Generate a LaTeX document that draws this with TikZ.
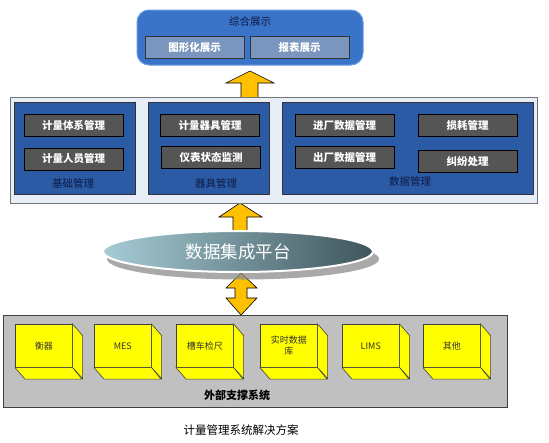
\documentclass[tikz,border=0pt]{standalone}
\usepackage{fontspec}
\setmainfont{Noto Sans CJK SC}
\usepackage{tikz}
\usetikzlibrary{shapes.geometric, calc}

\definecolor{topblue}{HTML}{3A74C8}
\definecolor{topedge}{HTML}{6A9AE0}
\definecolor{showbox}{HTML}{7A96BE}
\definecolor{panelbg}{HTML}{E8EEF8}
\definecolor{grpblue}{HTML}{2B5BA5}
\definecolor{navytxt}{HTML}{0E1A44}
\definecolor{modbox}{HTML}{555555}
\definecolor{arrowgold}{HTML}{FFC000}
\definecolor{ellleft}{HTML}{A6CCD6}
\definecolor{ellright}{HTML}{3E555B}
\definecolor{extbg}{HTML}{C0C0C0}
\definecolor{cubeyel}{HTML}{FFFF00}

\tikzset{
  showstyle/.style={draw=black!80, fill=showbox, text=white, font=\bfseries\fontsize{10.5}{12}\selectfont,
    minimum width=99pt, minimum height=22pt, inner sep=0pt},
  grpstyle/.style={draw=black!80, fill=grpblue, minimum height=92pt, inner sep=0pt},
  modstyle/.style={draw=black, fill=modbox, text=white, font=\bfseries\fontsize{10.5}{12}\selectfont,
    minimum width=99pt, minimum height=22pt, inner sep=0pt},
  grplabel/.style={text=navytxt, font=\fontsize{10.5}{12}\selectfont},
  blockarrow/.style={draw=black, fill=arrowgold, line width=0.6pt},
  cubeface/.style={draw=black!75, fill=cubeyel, line width=0.6pt},
  cubestyle/.style={cubeface, minimum width=57pt, minimum height=43pt, inner sep=1pt,
    align=center, text=black!80, font=\fontsize{9}{10.5}\selectfont},
}

\begin{document}
\begin{tikzpicture}[x=1pt, y=-1pt]
  \useasboundingbox (0,0) rectangle (549,442);

  % Bas : systemes externes
  \node[draw=black!75, fill=extbg, minimum width=504pt, minimum height=92pt, inner sep=0pt] (ext) at (255,361) {};
  \foreach \cx/\cname/\ctxt in {15/hengqi/衡器, 94/mes/MES, 176/caoche/槽车检尺, 260/shishi/实时数据\\库, 342/lims/LIMS, 423/qita/其他} {
    \node[cubestyle, anchor=north west] (\cname) at (\cx,324) {\ctxt};
    \draw[cubeface] (\cname.north east) -- ++(10,11.5) -- ++(0,43) -- (\cname.south east) -- cycle;
    \draw[cubeface] (\cname.south west) -- ++(10,11.5) -- ++(57,0) -- (\cname.south east) -- cycle;
  }
  \node[font=\bfseries\fontsize{11}{12}\selectfont] (extlabel) at (237,395) {外部支撑系统};

  % Fleches jaunes
  \draw[blockarrow] (241,273) -- (257,288) -- (247,288) -- (247,298) -- (257,298) -- (241,315)
        -- (226,298) -- (235,298) -- (235,288) -- (226,288) -- cycle;
  \draw[blockarrow] (240,203) -- (262,217) -- (247,217) -- (247,236) -- (233,236) -- (233,217) -- (219,217) -- cycle;
  \draw[blockarrow] (250,71) -- (274,83) -- (258,83) -- (258,99) -- (241,99) -- (241,83) -- (226,83) -- cycle;

  % Plateforme d'integration (ellipse + ombre)
  \node[ellipse, fill=black!45, fill opacity=0.75, minimum width=272pt, minimum height=41pt] (platshadow) at (243,259) {};
  \node[ellipse, draw=white, line width=2pt, left color=ellleft, right color=ellright,
        minimum width=270pt, minimum height=41pt, text=white, font=\fontsize{17.5}{20}\selectfont] (plat) at (238,251.5) {数据集成平台};

  % Panneau principal et groupes
  \node[draw=black!55, fill=panelbg, minimum width=527pt, minimum height=106pt, inner sep=0pt] (panel) at (273.5,150) {};
  \node[grpstyle, minimum width=121pt] (jichu) at (74.5,148) {};
  \node[grpstyle, minimum width=121pt] (qiju) at (208.5,148) {};
  \node[grpstyle, minimum width=251pt] (shuju) at (407.5,148) {};
  \node[modstyle] (tixi) at (73.5,125) {计量体系管理};
  \node[modstyle] (renyuan) at (73.5,159) {计量人员管理};
  \node[modstyle] (qijugl) at (210,125) {计量器具管理};
  \node[modstyle] (yibiao) at (211,157.5) {仪表状态监测};
  \node[modstyle] (jinchang) at (344.5,125) {进厂数据管理};
  \node[modstyle] (chuchang) at (344.5,157.5) {出厂数据管理};
  \node[modstyle] (sunhao) at (467.5,125) {损耗管理};
  \node[modstyle] (jiufen) at (467.5,161) {纠纷处理};
  \node[grplabel] (jichulabel) at (73,183) {基础管理};
  \node[grplabel] (qijulabel) at (216,183) {器具管理};
  \node[grplabel] (shujulabel) at (410,182) {数据管理};

  % Haut : affichage
  \draw[draw=topedge, fill=topblue, line width=1pt, rounded corners=12pt] (137,10) rectangle (363,65);
  \node[text=navytxt, font=\fontsize{10.5}{12}\selectfont] (zonghe) at (250,21) {综合展示};
  \node[showstyle] (tuxing) at (194.5,47.5) {图形化展示};
  \node[showstyle] (baobiao) at (299.5,47.5) {报表展示};

  % Legende
  \node[font=\fontsize{11.5}{13}\selectfont] (caption) at (241,430) {计量管理系统解决方案};
\end{tikzpicture}
\end{document}
